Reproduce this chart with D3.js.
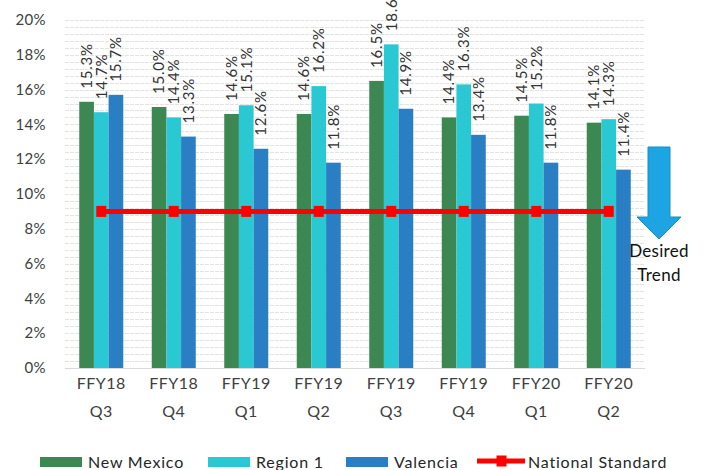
<!DOCTYPE html>
<html><head><meta charset="utf-8">
<script src="https://cdn.jsdelivr.net/npm/d3@7/dist/d3.min.js"></script>
<style>body{margin:0;background:#fff}svg{display:block}text{font-family:Lato,"Open Sans",sans-serif}</style>
</head><body><svg id="c" width="705" height="470"></svg>
<script>
const categories = [["FFY18","Q3"],["FFY18","Q4"],["FFY19","Q1"],["FFY19","Q2"],["FFY19","Q3"],["FFY19","Q4"],["FFY20","Q1"],["FFY20","Q2"]];
const seriesNames = ["New Mexico","Region 1","Valencia"];
const newMexico = [15.3,15.0,14.6,14.6,16.5,14.4,14.5,14.1];
const region1   = [14.7,14.4,15.1,16.2,18.6,16.3,15.2,14.3];
const valencia  = [15.7,13.3,12.6,11.8,14.9,13.4,11.8,11.4];
const nationalStandard = [9,9,9,9,9,9,9,9];
const yTicks = [0,2,4,6,8,10,12,14,16,18,20];
const colors = ["#3d8752","#2ac8d3","#2a7ec3"];

const svg = d3.select("#c");
const cats = categories.map(c=>c.join(" "));
const x0 = d3.scaleBand().domain(cats).range([65,645]).padding(0);
const x1 = d3.scaleBand().domain(seriesNames).range([x0.bandwidth()/2-22, x0.bandwidth()/2+22]).padding(0);
const y = d3.scaleLinear().domain([0,20]).range([368,20]);

// gridlines (minor every 0.4%)
const grid = d3.range(0,20.001,0.4);
svg.append("g").selectAll("line").data(grid).join("line")
  .attr("x1",65).attr("x2",645).attr("y1",d=>Math.round(y(d))+0.5).attr("y2",d=>Math.round(y(d))+0.5)
  .attr("stroke","#e3e3e3").attr("stroke-width",1).attr("stroke-dasharray","4,1");

// y axis labels
svg.append("g").selectAll("text").data(yTicks).join("text")
  .attr("x",46).attr("y",d=>y(d)).attr("dy","0.35em").attr("text-anchor","end")
  .attr("font-size",15).attr("letter-spacing",0.4).attr("fill","#404040").text(d=>d+"%");

// baseline
svg.append("line").attr("x1",65).attr("x2",645).attr("y1",368.5).attr("y2",368.5).attr("stroke","#d9d9d9");

const data = [newMexico,region1,valencia];
const groups = svg.append("g").selectAll("g").data(cats).join("g")
  .attr("transform",d=>`translate(${x0(d)},0)`);
groups.each(function(c,i){
  const g = d3.select(this);
  seriesNames.forEach((s,k)=>{
    const v = data[k][i];
    g.append("rect").attr("x",x1(s)).attr("width",x1.bandwidth()).attr("y",y(v)).attr("height",y(0)-y(v)).attr("fill",colors[k]);
    const cx = x1(s)+x1.bandwidth()/2, cy = y(v)-13;
    g.append("text").attr("transform",`translate(${cx},${cy}) rotate(-90)`)
      .attr("dy","0.35em").attr("font-size",15).attr("letter-spacing",0.8).attr("fill","#333").text(v.toFixed(1)+"%");
  });
});

// national standard line
const line = d3.line().x((d,i)=>x0(cats[i])+x0.bandwidth()/2).y(d=>y(d));
svg.append("path").datum(nationalStandard).attr("d",line).attr("fill","none").attr("stroke","#ff0000").attr("stroke-width",5);
svg.append("g").selectAll("rect").data(nationalStandard).join("rect")
  .attr("x",(d,i)=>x0(cats[i])+x0.bandwidth()/2-5).attr("y",d=>y(d)-5.5).attr("width",10).attr("height",11).attr("fill","#ff0000");

// category labels
const cl = svg.append("g").selectAll("text").data(categories).join("text")
  .attr("text-anchor","middle").attr("font-size",16).attr("letter-spacing",0.5).attr("fill","#404040")
  .attr("x",(d,i)=>x0(cats[i])+x0.bandwidth()/2);
cl.append("tspan").attr("y",389).text(d=>d[0]);
cl.append("tspan").attr("x",(d,i)=>x0(cats[i])+x0.bandwidth()/2).attr("y",417).text(d=>d[1]);

// desired trend arrow
svg.append("path").attr("d","M648,147 L670,147 L670,217 L681,217 L659,239 L637,217 L648,217 Z")
  .attr("fill","#1ca5e2").attr("stroke","#1a8cc0").attr("stroke-width",1);
svg.append("text").attr("x",659).attr("y",257).attr("text-anchor","middle").attr("font-size",17).attr("letter-spacing",0.3).attr("fill","#111").text("Desired");
svg.append("text").attr("x",659).attr("y",281).attr("text-anchor","middle").attr("font-size",17).attr("letter-spacing",0.3).attr("fill","#111").text("Trend");

// legend
const lg = svg.append("g");
const lx = [40,208,346];
seriesNames.forEach((s,k)=>{
  lg.append("rect").attr("x",lx[k]).attr("y",457).attr("width",42).attr("height",10).attr("fill",colors[k]);
  lg.append("text").attr("x",lx[k]+48).attr("y",462).attr("dy","0.35em").attr("font-size",16).attr("letter-spacing",0.8).attr("fill","#262626").text(s);
});
lg.append("line").attr("x1",477).attr("x2",525).attr("y1",461).attr("y2",461).attr("stroke","#ff0000").attr("stroke-width",5);
lg.append("rect").attr("x",496.5).attr("y",455.5).attr("width",10).attr("height",11).attr("fill","#ff0000");
lg.append("text").attr("x",528).attr("y",462).attr("dy","0.35em").attr("font-size",16).attr("letter-spacing",0.8).attr("fill","#262626").text("National Standard");
</script></body></html>
